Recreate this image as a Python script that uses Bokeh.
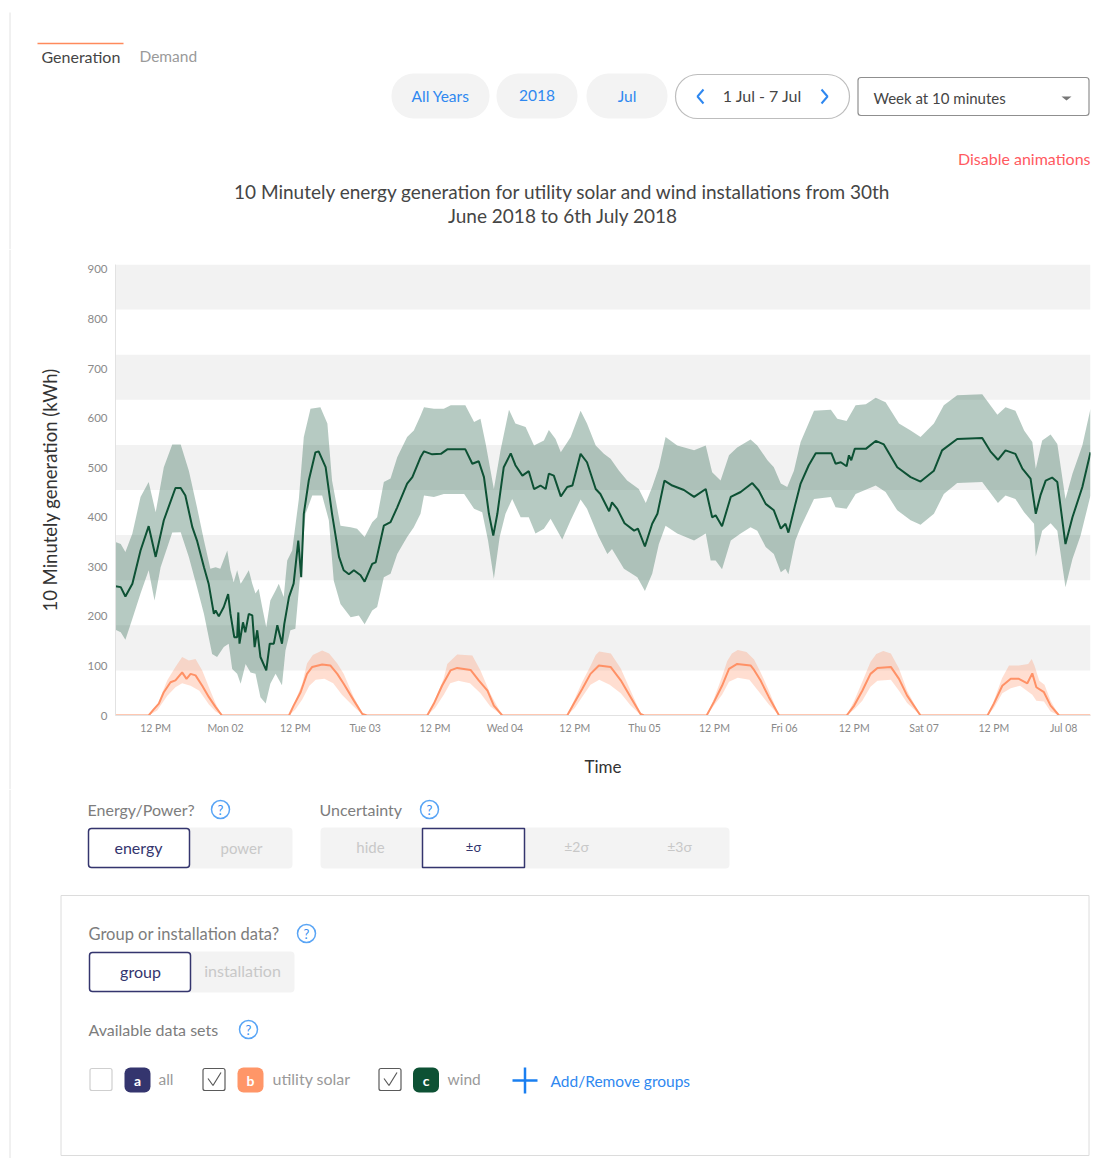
import numpy as np
from bokeh.plotting import figure
from bokeh.layouts import column, row
from bokeh.models import Range1d, FixedTicker
from bokeh.core.properties import value
from bokeh.embed import file_html
from bokeh.resources import INLINE

# ---------- data: hours since 1 Jul 2018 00:00, energy in kWh ----------
wind_mean_h = [5.1,6.0,6.8,8.0,9.4,10.8,12.0,13.4,15.4,16.3,17.1,18.3,19.1,20.3,21.1,22.0,22.3,22.85,23.7,24.45,24.85,25.5,26.0,26.2,26.4,27.0,27.4,28.0,28.6,29.0,29.45,30.0,31.0,31.6,32.3,32.9,33.7,34.1,34.9,35.7,36.5,37.0,37.45,38.3,39.45,40.0,41.2,42.3,43.5,44.3,45.2,46.05,47.2,47.9,49.2,49.8,51.2,52.35,53.5,55.2,56.1,57.5,58.1,59.5,61.0,62.1,65.2,66.4,67.5,68.4,69.25,70.0,70.7,71.8,73.0,73.8,75.0,76.1,77.0,78.1,79.0,79.55,80.4,81.6,82.7,83.6,85.0,86.1,87.6,88.4,89.9,90.4,91.3,92.55,94.2,94.85,96.05,97.3,98.2,99.4,100.75,102.75,104.5,106.5,107.6,108.2,109.3,110.8,112.5,114.5,115.6,116.8,118.2,119.4,120.2,120.7,121.9,122.8,124.2,125.4,128.1,128.8,129.7,130.7,131.1,131.5,132.1,134.0,135.7,137.1,139.4,141.7,143.4,145.7,147.1,149.7,154.0,155.4,156.7,158.0,159.7,160.9,162.3,163.2,164.0,164.9,166.0,166.9,168.3,169.5,171.2,172.6]
wind_mean = [261,259,240,266,333,382,320,394,459,459,444,380,353,299,266,205,212,200,219,245,205,158,158,208,145,188,168,205,202,138,172,118,91,145,145,182,145,185,239,266,353,279,407,474,531,533,501,407,320,293,285,293,283,270,306,309,383,390,420,468,481,521,533,527,528,537,537,508,513,481,407,363,407,501,529,505,484,493,457,464,457,488,484,442,461,464,528,511,457,447,412,430,417,388,373,377,341,387,407,474,464,455,441,457,400,404,382,441,451,469,454,427,414,377,387,369,427,468,505,529,529,508,511,503,525,515,538,538,554,547,501,481,472,494,535,558,560,533,516,535,528,498,478,407,444,474,480,471,346,400,461,531]

wind_upper_h = [5.1,6.0,6.8,8.0,9.4,10.8,12.0,13.4,14.85,16.3,17.7,19.1,20.3,21.4,22.3,23.1,24.3,24.85,25.4,26.0,26.6,27.15,28.0,28.6,29.15,29.7,30.3,31.0,31.7,32.6,33.15,34.0,34.6,35.45,36.6,37.45,38.6,40.3,41.5,42.3,43.75,45.5,46.6,47.9,49.2,50.05,51.2,52.35,53.5,55.2,56.35,57.5,58.1,59.8,61.5,62.7,65.2,66.7,67.8,68.7,70.1,71.25,72.7,73.8,75.55,77.0,78.7,79.55,80.7,81.6,83.3,85.0,86.1,87.6,89.0,90.15,91.6,93.0,95.0,96.2,97.3,98.45,99.6,101.6,104.5,106.5,107.6,109.05,110.5,111.9,114.2,115.35,117.1,118.2,119.4,120.5,121.65,122.8,125.1,128.0,129.1,130.7,132.25,134.0,135.7,137.4,139.7,141.7,143.4,145.7,147.4,149.7,154.0,156.6,158.0,159.7,161.2,162.6,163.2,164.3,165.75,166.9,168.3,169.5,171.2,172.6]
wind_upper = [350,346,330,367,441,471,410,501,547,547,494,420,353,296,299,296,333,293,269,293,266,276,293,266,246,256,219,178,232,252,266,239,313,333,437,562,619,622,589,474,383,380,377,360,390,400,471,478,521,562,575,605,622,619,619,626,626,592,599,548,457,535,617,589,582,545,555,576,558,531,562,615,589,545,528,518,494,474,457,429,461,501,562,545,535,545,491,474,525,541,557,545,515,501,468,461,494,552,615,617,599,594,626,628,641,632,589,575,562,589,626,646,648,607,622,615,575,552,498,555,567,548,437,488,545,619]

wind_lower_h = [5.1,6.0,6.8,8.0,9.4,10.8,11.8,12.85,14.85,16.3,17.7,19.1,20.3,21.7,22.55,23.7,24.55,25.15,26.0,26.6,27.45,28.3,29.15,30.0,30.9,31.7,32.6,33.7,34.3,35.15,36.0,36.9,37.75,38.9,40.6,41.75,42.6,43.75,45.5,46.9,47.9,49.2,50.05,51.2,52.35,53.5,55.2,56.35,57.5,58.1,59.8,61.5,65.0,66.7,68.1,69.1,70.1,71.1,72.1,73.25,74.7,76.1,77.25,78.7,79.85,81.0,81.85,83.3,85.0,86.1,88.0,89.6,90.4,92.45,94.75,96.05,97.3,98.45,99.6,101.6,104.5,106.5,107.35,108.2,109.3,110.8,112.5,114.2,115.35,116.8,118.2,119.4,120.2,120.7,121.9,122.8,125.1,128.0,128.8,130.7,132.25,135.7,137.4,139.4,141.7,143.4,145.7,147.4,149.7,154.0,156.7,158.0,159.7,161.2,162.9,163.2,164.3,165.75,166.9,168.3,169.5,170.9,172.6]
wind_lower = [173,168,153,195,246,293,232,299,369,370,320,259,205,124,118,138,145,94,84,64,104,87,84,37,24,64,84,61,131,172,175,293,407,444,444,394,272,225,198,202,184,212,219,279,286,326,360,380,407,444,441,447,447,417,410,353,276,360,407,437,400,400,367,377,397,373,355,394,436,417,363,326,336,296,279,251,286,346,383,367,353,367,313,313,295,353,367,380,373,340,326,289,296,285,353,380,437,441,420,417,447,464,451,414,394,385,407,447,469,471,429,444,437,410,387,321,373,388,373,259,316,363,444]

solar_mean_h = [5.1,10.8,11.7,12.55,13.4,14.55,15.4,16.55,17.3,18.0,18.85,20.0,21.15,22.3,23.4,34.9,35.7,36.9,38.0,38.9,40.6,42.0,43.2,44.3,46.05,47.5,48.3,58.65,59.8,61.2,62.65,63.8,66.1,67.5,69.0,70.1,71.55,82.7,83.85,85.3,86.7,88.15,90.15,91.9,93.6,95.3,95.9,106.65,107.9,109.3,110.5,111.9,114.2,114.8,115.9,117.35,119.1,130.7,132.0,133.4,134.8,136.0,138.3,139.7,141.1,143.4,154.9,156.0,157.45,158.9,160.3,161.75,162.6,163.3,164.6,165.75,167.2,172.6]
solar_mean = [0,0,13,24,47,67,71,87,74,84,81,60,37,17,0,0,20,47,84,98,103,101,84,64,30,3,0,0,24,60,91,96,92,71,50,20,0,0,24,54,84,101,98,71,37,3,0,0,27,60,94,104,101,92,71,37,0,0,20,50,84,96,98,74,40,0,0,24,60,74,74,65,85,57,47,20,0,0]

solar_upper_h = [5.1,10.8,12.25,14.0,15.4,16.55,17.7,18.85,20.0,21.15,22.3,23.4,34.9,36.0,37.2,38.0,39.0,40.6,41.8,43.2,44.3,46.0,47.5,48.3,58.65,60.0,61.5,62.1,63.8,66.4,67.8,69.5,71.55,82.7,84.0,85.3,86.7,87.6,88.2,90.2,91.9,93.6,95.3,95.9,106.65,107.9,109.3,110.2,111.0,112.0,113.5,114.8,115.9,117.35,119.1,130.7,132.0,133.4,134.8,135.8,137.0,138.3,139.7,141.1,143.4,154.9,156.0,157.4,158.6,160.3,161.9,162.5,163.0,163.8,164.7,165.75,167.2,172.6]
solar_upper = [0,0,20,71,98,118,111,114,91,57,24,0,0,30,65,105,122,131,125,105,84,38,5,0,0,32,75,104,123,121,91,44,0,0,34,68,100,122,129,125,95,50,5,0,0,34,78,110,125,132,128,113,88,50,0,0,30,68,108,124,130,125,95,50,0,0,30,75,101,101,104,114,100,70,62,30,0,0]

solar_lower_h = [5.1,10.8,12.25,14.0,15.4,16.55,18.0,19.5,21.15,22.3,23.4,34.9,36.0,37.2,38.4,39.5,41.0,42.5,44.0,46.0,47.5,48.3,58.65,60.0,61.5,62.6,64.0,66.0,67.8,69.5,71.55,82.7,84.0,85.3,86.7,88.2,90.0,91.9,93.6,95.3,95.9,106.65,107.9,109.3,110.5,112.0,114.0,115.5,117.35,119.1,130.7,132.0,133.4,134.8,136.0,138.3,139.7,141.1,143.4,154.9,156.0,157.45,158.9,160.5,162.6,163.3,164.6,165.75,167.2,172.6]
solar_lower = [0,0,10,40,57,65,60,50,22,8,0,0,12,33,60,72,74,65,42,18,2,0,0,15,42,65,70,65,45,18,0,0,15,38,62,72,62,45,20,1,0,0,20,42,68,76,72,50,22,0,0,12,30,58,70,72,50,25,0,0,15,45,55,60,42,30,28,8,0,0]

band_low = [819,637,455,273,91]
band_high = [910,728,546,364,182]
y_ticks = [0,100,200,300,400,500,600,700,800,900]
x_tick_hours = [12,24,36,48,60,72,84,96,108,120,132,144,156,168]
x_tick_labels = ["12 PM","Mon 02","12 PM","Tue 03","12 PM","Wed 04","12 PM","Thu 05","12 PM","Fri 06","12 PM","Sat 07","12 PM","Jul 08"]

title_lines = ["10 Minutely energy generation for utility solar and wind installations from 30th","June 2018 to 6th July 2018"]

FONT = "Lato"
BLUE = "#2f88f0"; GREY = "#7d7d7d"; PALE = "#c8c8c8"; NAVY = "#34356e"; DARK = "#454545"
SOFT = "#f3f3f3"; RULE = "#e2e2e2"; WIND = "#0d5134"; SOLAR = "#ff9166"

def ui_fig(top, bottom, rule_from):
    f = figure(width=1098, height=bottom-top, x_range=Range1d(1,1099), y_range=Range1d(bottom,top),
               x_axis_location=None, y_axis_location=None, toolbar_location=None, tools="",
               output_backend="svg", min_border=0, outline_line_color=None)
    f.grid.visible = False
    f.line([10.5,10.5],[rule_from,bottom],line_color=RULE,line_width=1)
    return f

def txt(f,x,y,s,size=15,color=GREY,align="left"):
    f.text([x],[y],text=[s],text_font=value(FONT),text_font_size=f"{size}px",text_color=color,
           text_align=align,text_baseline="middle")

def box(f,l,r,t,b,fill=None,line=None,radius=0,lw=1):
    f.quad(left=[l],right=[r],top=[t],bottom=[b],fill_color=fill,line_color=line,line_width=lw,border_radius=radius)

def help_icon(f,x,y):
    f.scatter([x],[y],size=18,marker="circle",fill_color=None,line_color="#5aa5f5",line_width=1.5)
    txt(f,x,y,"?",13,"#3b8fef","center")

# ---------- top block ----------
top = ui_fig(1,250,13)
top.line([38,124],[44,44],line_color="#ff8a5c",line_width=1.5)
txt(top,42,57,"Generation",16,DARK)
txt(top,140,56,"Demand",15.5,"#9a9a9a")
for l,r,s in [(392,490,"All Years"),(497,578,"2018"),(587,668,"Jul")]:
    box(top,l,r,74,119,fill=SOFT,radius=22)
    txt(top,(l+r)/2,96,s,15.5,BLUE,"center")
box(top,676,850,75,119,fill="white",line="#bdbdbd",radius=22,lw=1.2)
txt(top,763,96,"1 Jul - 7 Jul",16,DARK,"center")
top.line([704,698,704],[90,97,104],line_color=BLUE,line_width=2)
top.line([822,828,822],[90,97,104],line_color=BLUE,line_width=2)
box(top,858.5,1089.5,78,116,fill="white",line="#8f8f8f",radius=3,lw=1.2)
txt(top,874,98,"Week at 10 minutes",15,DARK)
top.patch([1062,1072,1067],[97,97,101],fill_color="#777777",line_color=None)
txt(top,1091,159,"Disable animations",16,"#ff5a5f","right")
txt(top,563.5,192,title_lines[0],19,DARK,"center")
txt(top,563.5,216,title_lines[1],19,DARK,"center")

# ---------- chart ----------
T0 = np.datetime64("2018-07-01T00:00:00").astype("datetime64[ms]").astype(np.int64)
def ms(h): return T0 + np.asarray(h,dtype=float)*3600000.0

p = figure(width=1070,height=540,x_axis_type="datetime",
           x_range=Range1d(ms(5.1),ms(172.6)),y_range=Range1d(0,910),
           toolbar_location=None,tools="",output_backend="svg",
           min_border_left=87,min_border_right=8,min_border_top=15,min_border_bottom=74,
           outline_line_color=None)
p.frame_align = False
p.grid.visible=False
x0,x1 = ms(5.1),ms(172.6)
p.quad(left=[x0]*5,right=[x1]*5,bottom=band_low,top=band_high,fill_color="#f2f2f2",line_color=None)

def band(hu,u,hl,l,color):
    xs = np.concatenate([ms(hu),ms(hl)[::-1]])
    ys = list(u)+list(l)[::-1]
    p.patch(xs,ys,fill_color=color,fill_alpha=0.3,line_color=None)

band(wind_upper_h,wind_upper,wind_lower_h,wind_lower,WIND)
band(solar_upper_h,solar_upper,solar_lower_h,solar_lower,SOLAR)
p.line(ms(wind_mean_h),wind_mean,line_color=WIND,line_width=2)
p.line(ms(solar_mean_h),solar_mean,line_color=SOLAR,line_width=2)

p.xaxis.ticker = FixedTicker(ticks=[float(ms(h)) for h in x_tick_hours])
p.xaxis.major_label_overrides = {float(ms(h)):s for h,s in zip(x_tick_hours,x_tick_labels)}
p.yaxis.ticker = FixedTicker(ticks=y_ticks)
p.xaxis.axis_label="Time"
p.yaxis.axis_label="10 Minutely generation (kWh)"
for ax in (p.xaxis[0],p.yaxis[0]):
    ax.axis_line_color="#e2e2e2"
    ax.major_tick_line_color=None
    ax.major_tick_out=0
    ax.major_tick_in=0
    ax.minor_tick_line_color=None
    ax.minor_tick_out=0
    ax.major_label_text_color="#8a8a8a"
    ax.major_label_text_font=FONT
    ax.axis_label_text_font=FONT
    ax.axis_label_text_font_style="normal"
    ax.axis_label_text_color="#333333"
p.xaxis.major_label_text_font_size="10.5px"
p.yaxis.major_label_text_font_size="11.5px"
p.xaxis.axis_label_text_font_size="17px"
p.yaxis.axis_label_text_font_size="18.5px"
p.xaxis.major_label_standoff=6
p.yaxis.major_label_standoff=8
p.xaxis.axis_label_standoff=19
p.yaxis.axis_label_standoff=23

strip = figure(width=28,height=540,x_range=Range1d(0,28),y_range=Range1d(790,250),
               x_axis_location=None,y_axis_location=None,toolbar_location=None,tools="",
               output_backend="svg",min_border=0,outline_line_color=None)
strip.frame_align = False
strip.grid.visible=False
strip.line([9.5,9.5],[250,790],line_color=RULE,line_width=1)

# ---------- controls ----------
b = ui_fig(790,1159,790)
txt(b,88,810,"Energy/Power?",16,GREY); help_icon(b,221,810)
txt(b,320,810,"Uncertainty",16,GREY); help_icon(b,430,810)
box(b,89,293,828,869,fill=SOFT,radius=4)
box(b,89,190,829,868,fill="white",line=NAVY,radius=3,lw=1.5)
txt(b,139,848,"energy",16,NAVY,"center"); txt(b,242,848,"power",15,PALE,"center")
box(b,321,730,828,869,fill=SOFT,radius=4)
box(b,423,525,829,868,fill="white",line=NAVY,lw=1.5)
txt(b,371,847,"hide",15,PALE,"center"); txt(b,474,847,"±σ",13,NAVY,"center")
txt(b,577,847,"±2σ",14,PALE,"center"); txt(b,680,847,"±3σ",14,PALE,"center")

box(b,61.5,1089.5,896,1156,fill=None,line="#dcdcdc",lw=1)
txt(b,89,934,"Group or installation data?",16.5,GREY); help_icon(b,307,934)
box(b,90,295,952,993,fill=SOFT,radius=4)
box(b,90,191,953,992,fill="white",line=NAVY,radius=3,lw=1.5)
txt(b,141,972,"group",16,NAVY,"center"); txt(b,243,971,"installation",16,PALE,"center")
txt(b,89,1030,"Available data sets",16,GREY); help_icon(b,249,1030)

box(b,90.5,112.5,1069,1091,fill="white",line="#cfcfcf",radius=2,lw=1.2)
for l in (203.5,379.5):
    box(b,l,l+22,1069,1091,fill="white",line="#5a5a5a",radius=2,lw=1.2)
    b.line([l+5,l+10,l+18],[1079,1086,1073],line_color="#5a5a5a",line_width=1.2)
for l,c,s in [(125,NAVY,"a"),(238,"#ff9668","b"),(413.5,WIND,"c")]:
    box(b,l,l+26,1068,1093,fill=c,radius=6)
    b.text([l+13],[1081],text=[s],text_font=value(FONT),text_font_size="14px",text_font_style="bold",
           text_color="white",text_align="center",text_baseline="middle")
txt(b,159,1079,"all",15.5,"#9a9a9a"); txt(b,273,1079,"utility solar",16,"#9a9a9a"); txt(b,448,1079,"wind",15.5,"#9a9a9a")
b.line([513,538],[1081,1081],line_color="#1a7ff0",line_width=2.5)
b.line([525.5,525.5],[1068,1094],line_color="#1a7ff0",line_width=2.5)
txt(b,551,1081,"Add/Remove groups",15.5,BLUE)

page = column(top,row(strip,p,spacing=0),b,spacing=0)
open("out.html","w").write(file_html(page,INLINE))
